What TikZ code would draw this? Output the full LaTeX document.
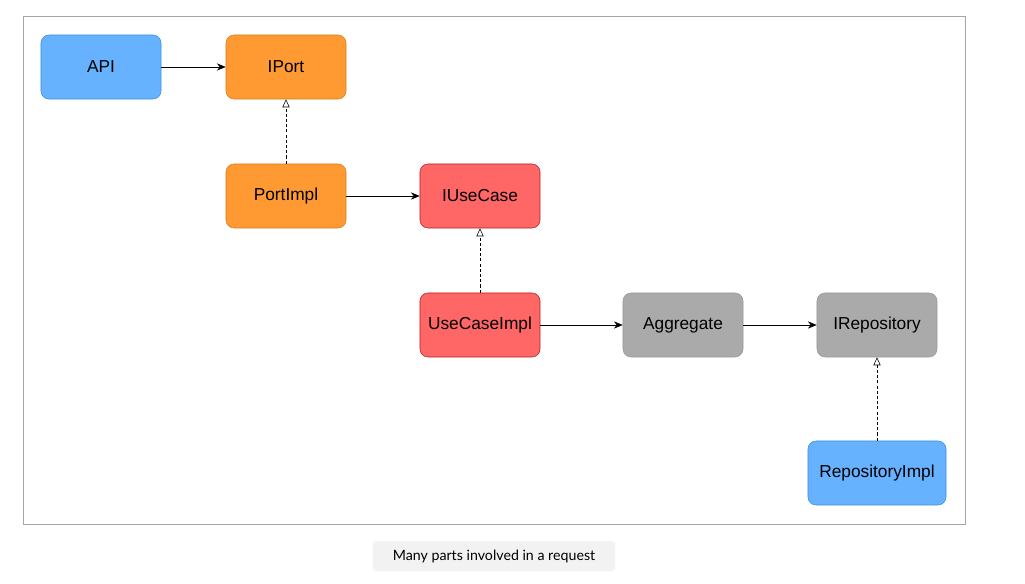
\documentclass[tikz,border=0pt]{standalone}
\usepackage{fontspec}
\setmainfont{Liberation Sans}
\newfontfamily\capfont{Lato}
\usepackage{xcolor}
\usetikzlibrary{arrows.meta}

\definecolor{bluefill}{HTML}{66B2FF}
\definecolor{blueline}{HTML}{3D8FE0}
\definecolor{orangefill}{HTML}{FF9A33}
\definecolor{orangeline}{HTML}{D9801F}
\definecolor{redfill}{HTML}{FF6666}
\definecolor{redline}{HTML}{B82020}
\definecolor{grayfill}{HTML}{AAAAAA}
\definecolor{grayline}{HTML}{999999}

\tikzset{
    comp/.style={draw, rounded corners=0.2cm, minimum width=3cm, minimum height=1.6cm, font=\fontsize{12.3}{14}\selectfont},
    uses/.style={-{Stealth[length=2.2mm,width=1.8mm]}, thin},
    impl/.style={-{Triangle[open,length=2mm,width=1.8mm]}, dash pattern=on 2.2pt off 1.5pt, thin}
}

\begin{document}
\begin{tikzpicture}[x=0.025cm,y=-0.025cm]
        \useasboundingbox (0,0) rectangle (1025,584);
        \draw[gray!70] (23,16) rectangle (965,524);
        \node[comp, fill=bluefill, draw=blueline](api) at (101,67) {API};
        \node[comp, fill=orangefill, draw=orangeline](iport) at (286,67) {IPort};
        \node[comp, fill=orangefill, draw=orangeline](portimpl) at (286,196) {PortImpl};
        \node[comp, fill=redfill, draw=redline](iusecase) at (480,196) {IUseCase};
        \node[comp, fill=redfill, draw=redline](usecaseimpl) at (480,325) {UseCaseImpl};
        \node[comp, fill=grayfill, draw=grayline](aggregate) at (683,325) {Aggregate};
        \node[comp, fill=grayfill, draw=grayline](irepo) at (877,325) {IRepository};
        \node[comp, fill=bluefill, draw=blueline, minimum width=3.45cm](repoimpl) at (877,473) {RepositoryImpl};
        \node[fill=black!5, rounded corners=0.08cm, minimum width=6.05cm, minimum height=0.75cm, font=\capfont\fontsize{10.1}{12}\selectfont](caption) at (494,556) {Many parts involved in a request};
        \draw[uses](api)--(iport);
        \draw[uses](portimpl)--(iusecase);
        \draw[uses](usecaseimpl)--(aggregate);
        \draw[uses](aggregate)--(irepo);
        \draw[impl](portimpl)--(iport);
        \draw[impl](usecaseimpl)--(iusecase);
        \draw[impl](repoimpl)--(irepo);
        \end{tikzpicture}
\end{document}
